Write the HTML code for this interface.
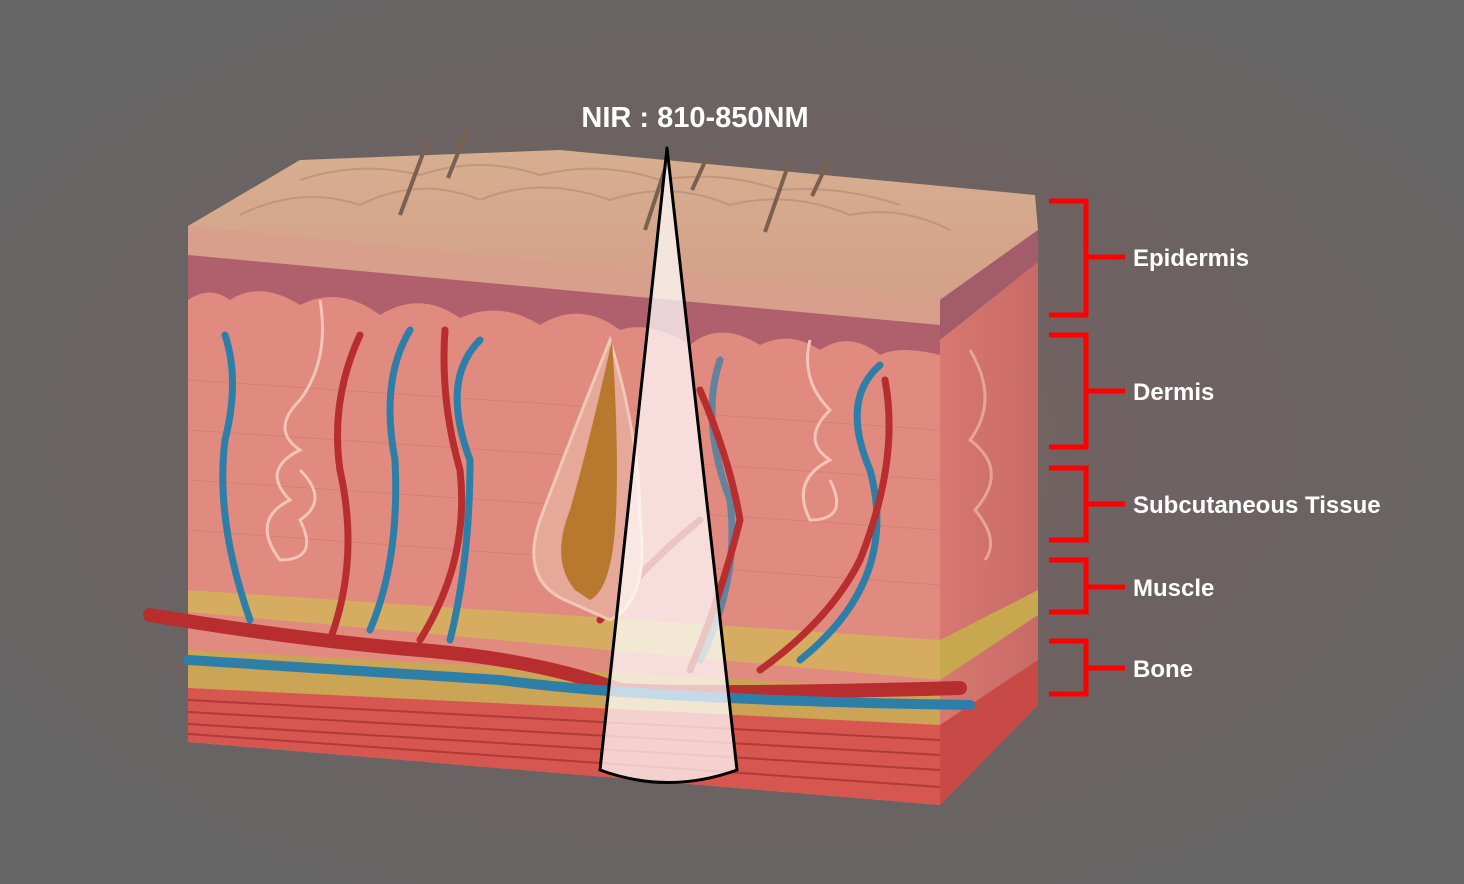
<!DOCTYPE html>
<html><head><meta charset="utf-8"><style>
html,body{margin:0;padding:0;width:1464px;height:884px;overflow:hidden;background:#666}
svg{display:block}
text{font-family:"Liberation Sans",sans-serif;font-weight:bold;fill:#fff}
</style></head><body>
<svg width="1464" height="884" viewBox="0 0 1464 884">
<defs>
<radialGradient id="bg" cx="50%" cy="50%" r="60%">
<stop offset="0" stop-color="#7a6262"/><stop offset="0.6" stop-color="#6c6262"/><stop offset="1" stop-color="#666666"/>
</radialGradient>
<linearGradient id="topf" x1="0" y1="0" x2="0" y2="1">
<stop offset="0" stop-color="#d7ae90"/><stop offset="1" stop-color="#d4a088"/>
</linearGradient>
<linearGradient id="side" x1="0" y1="0" x2="1" y2="0">
<stop offset="0" stop-color="#d77872"/><stop offset="1" stop-color="#c86a66"/>
</linearGradient>
</defs>
<rect width="1464" height="884" fill="url(#bg)"/>
<polygon points="188,226 300,160 560,150 1035,195 1038,230 940,300 188,252" fill="url(#topf)"/>
<g stroke="#b98e74" stroke-width="2" fill="none" opacity="0.7">
<path d="M240,215 q60,-30 120,-10 q60,-30 120,-5 q60,-25 130,0 q60,-20 120,5 q60,-15 120,10 q50,-10 100,15"/>
<path d="M300,180 q60,-20 120,-5 q60,-20 120,0 q60,-15 120,5 q60,-10 120,10 q60,-5 120,15"/>
</g>
<g stroke="#7a6050" stroke-width="4">
<line x1="400" y1="215" x2="428" y2="140"/><line x1="448" y1="178" x2="468" y2="128"/>
<line x1="645" y1="230" x2="668" y2="160"/><line x1="692" y1="190" x2="708" y2="155"/>
<line x1="765" y1="232" x2="790" y2="160"/><line x1="812" y1="196" x2="828" y2="162"/>
</g>
<polygon points="188,226 940,300 940,805 188,742" fill="#e08a80"/>
<polygon points="188,226 940,300 940,325 188,255" fill="#d8a08c"/>
<path d="M188,255 L940,325 L940,355 Q900,345 880,355 Q850,330 820,350 Q790,330 760,345 Q720,320 690,345 Q650,320 620,330 Q580,300 540,325 Q500,300 460,318 Q420,290 380,315 Q340,285 300,305 Q260,280 230,300 Q210,285 188,300 Z" fill="#b0606c"/>
<polygon points="940,300 1038,230 1038,705 940,805" fill="url(#side)"/>
<polygon points="940,300 1038,230 1038,262 940,340" fill="#a25c6a"/>
<polygon points="188,590 940,640 940,680 188,612" fill="#d2b25a" opacity="0.85"/>
<polygon points="188,650 940,690 940,725 188,690" fill="#c8a84e" opacity="0.85"/>
<polygon points="940,640 1038,590 1038,615 940,680" fill="#c8a84e"/>
<polygon points="188,688 940,725 940,805 188,742" fill="#d85650"/>
<g stroke="#b03a38" stroke-width="2">
<line x1="188" y1="700" x2="940" y2="740"/><line x1="188" y1="712" x2="940" y2="755"/>
<line x1="188" y1="724" x2="940" y2="770"/><line x1="188" y1="734" x2="940" y2="787"/>
</g>
<polygon points="940,725 1038,660 1038,705 940,805" fill="#c84a46"/>
<g stroke="#c77a70" stroke-width="1" opacity="0.5">
<line x1="188" y1="380" x2="940" y2="430"/><line x1="188" y1="430" x2="940" y2="480"/>
<line x1="188" y1="480" x2="940" y2="530"/><line x1="188" y1="530" x2="940" y2="585"/>
</g>
<g fill="none" stroke="#f3c4b8" stroke-width="3">
<path d="M320,300 Q330,360 300,400 Q270,430 300,450 Q260,470 290,500 Q250,520 280,560 Q320,560 300,520 Q330,500 300,470"/>
<path d="M810,340 Q800,380 830,410 Q800,440 830,460 Q790,480 810,520 Q850,520 830,480"/>
<path d="M970,350 Q1000,400 970,440 Q1010,470 975,510 Q1000,540 985,560" opacity="0.6"/>
</g>
<g fill="none" stroke-linecap="round">
<path d="M150,615 Q300,640 420,650 Q540,660 620,690 Q700,695 960,688" stroke="#b82e2e" stroke-width="14"/>
<path d="M188,660 Q350,670 500,680 Q650,700 970,705" stroke="#2e7fa8" stroke-width="10"/>
<g stroke="#2e7fa8" stroke-width="7">
<path d="M225,335 Q240,380 225,440 Q215,520 250,620"/>
<path d="M410,330 Q380,380 395,460 Q400,560 370,630"/>
<path d="M480,340 Q440,380 470,460 Q470,560 450,640"/>
<path d="M880,365 Q840,400 870,470 Q900,580 800,660"/>
<path d="M720,360 Q700,420 730,500 Q740,580 700,660" opacity="0.7"/>
</g>
<g stroke="#b82e2e" stroke-width="7">
<path d="M360,335 Q330,400 340,470 Q360,560 330,640"/>
<path d="M445,330 Q440,400 460,470 Q470,560 420,640"/>
<path d="M885,380 Q900,460 860,560 Q830,620 760,670"/>
<path d="M700,390 Q730,460 740,520 Q720,600 690,670"/>
<path d="M600,620 Q650,560 700,520"/>
</g>
</g>
<path d="M565,600 Q520,580 540,520 Q570,440 610,340 Q640,440 640,520 Q650,600 610,620 Z" fill="#e6a898" stroke="#f0c8b8" stroke-width="3"/>
<path d="M575,590 Q550,560 570,510 Q590,440 612,340 Q620,460 615,530 Q610,590 590,600 Z" fill="#b8782e"/>
<path d="M667,148 L737,770 Q668,795 600,770 Z" fill="#ffffff" fill-opacity="0.72" stroke="#000" stroke-width="3" stroke-linejoin="round"/>
<text x="695" y="127" font-size="29" text-anchor="middle">NIR : 810-850NM</text>
<g fill="none" stroke="#ff0000" stroke-width="5">
<path d="M1049,201 H1086 V315 H1049 M1086,257 H1125"/>
<path d="M1049,335 H1086 V447 H1049 M1086,391 H1125"/>
<path d="M1049,468 H1086 V540 H1049 M1086,504 H1125"/>
<path d="M1049,560 H1086 V612 H1049 M1086,587 H1125"/>
<path d="M1049,641 H1086 V694 H1049 M1086,668 H1125"/>
</g>
<g font-size="24">
<text x="1133" y="266">Epidermis</text>
<text x="1133" y="400">Dermis</text>
<text x="1133" y="513">Subcutaneous Tissue</text>
<text x="1133" y="596">Muscle</text>
<text x="1133" y="677">Bone</text>
</g>
</svg>
</body></html>
